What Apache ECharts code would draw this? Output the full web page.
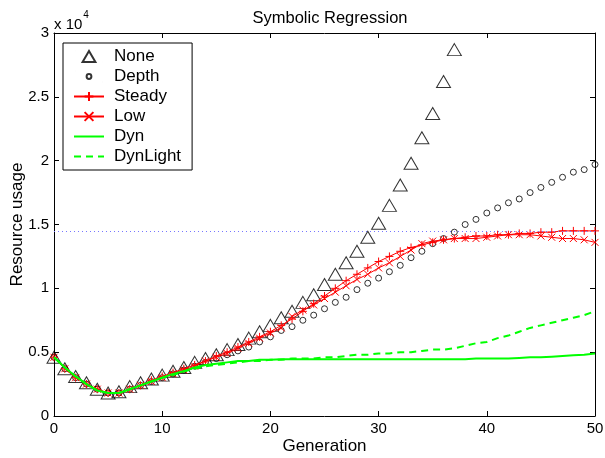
<!DOCTYPE html>
<html>
<head>
<meta charset="utf-8">
<script src="https://cdn.jsdelivr.net/npm/echarts@6/dist/echarts.min.js"></script>
<style>
html,body{margin:0;padding:0;background:#fff;}
#chart{width:605px;height:458px;}
</style>
</head>
<body>
<div id="chart"></div>
<script>
const generations = [0,1,2,3,4,5,6,7,8,9,10,11,12,13,14,15,16,17,18,19,20,21,22,23,24,25,26,27,28,29,30,31,32,33,34,35,36,37,38,39,40,41,42,43,44,45,46,47,48,49,50];
const noneVals = [4600,3700,3100,2600,2100,1800,1900,2300,2600,2900,3200,3500,3800,4200,4500,4800,5200,5600,6100,6600,7100,7700,8200,8900,9500,10300,11100,12000,12900,14000,15100,16500,18100,19800,21800,23700,26200,28700];
const depthVals = [4600,3700,3000,2500,2100,1800,1800,2100,2400,2700,3000,3300,3600,3900,4200,4500,4800,5100,5400,5800,6200,6700,7000,7500,7900,8400,8900,9300,9900,10400,10800,11300,11800,12400,12900,13500,13900,14400,15000,15400,15900,16300,16700,17000,17500,17900,18300,18700,19100,19300,19700];
const steadyVals = [4600,3700,3000,2500,2100,1800,1800,2100,2400,2800,3100,3400,3700,4000,4300,4700,5000,5400,5800,6200,6600,7100,7600,8200,8800,9400,10000,10600,11100,11600,12100,12500,12900,13200,13400,13600,13800,13900,14000,14100,14100,14200,14200,14300,14300,14400,14400,14500,14500,14500,14500];
const lowVals = [4600,3700,3000,2500,2100,1800,1800,2100,2400,2700,3000,3300,3600,3900,4300,4600,4900,5300,5700,6100,6500,6900,7800,8300,8700,9200,9700,10200,10700,11100,11600,12000,12500,13000,13500,13700,13800,13900,13900,13900,14000,14100,14200,14200,14200,14100,14000,13900,13900,13800,13600];
const dynVals = [4600,3800,3100,2500,2000,1800,1800,2100,2400,2700,3000,3300,3500,3800,4000,4100,4200,4300,4300,4400,4400,4450,4450,4450,4450,4450,4450,4450,4450,4450,4450,4450,4450,4450,4450,4450,4450,4450,4450,4500,4500,4500,4500,4550,4600,4600,4650,4700,4750,4800,4900];
const dynLightVals = [4600,3800,3100,2500,2000,1800,1800,2100,2400,2700,3000,3200,3500,3700,3900,4000,4100,4200,4300,4300,4400,4400,4500,4500,4500,4600,4600,4700,4800,4800,4900,4900,5000,5000,5100,5200,5200,5300,5500,5700,5800,6100,6300,6600,6900,7100,7300,7500,7700,7900,8200];
const referenceLevel = 14450;
const seriesNames = ['None','Depth','Steady','Low','Dyn','DynLight'];

function pairs(vals){ return vals.map((v,i)=>[generations[i], v]); }

const FONT = 'Liberation Sans';
const chart = echarts.init(document.getElementById('chart'), null, {renderer:'canvas'});
const plusPath = 'path://M0,5L10,5M5,0L5,10';
const crossPath = 'path://M0,0L10,10M0,10L10,0';
const triIcon = 'path://M0,0L0.01,0M30,12L29.99,12M8,12L15,0L22,12Z';
const circIcon = 'path://M0,0L0.01,0M30,12L29.99,12M17.6,6A2.6,2.6 0 1 1 12.4,6A2.6,2.6 0 1 1 17.6,6Z';
const hidden = {opacity:0};

chart.setOption({
  animation:false,
  backgroundColor:'#fff',
  textStyle:{fontFamily:FONT},
  title:{text:'Symbolic Regression', left:325, textAlign:'center', top:5,
    textStyle:{fontFamily:FONT, fontSize:16.5, fontWeight:'normal', color:'#000'}},
  graphic:[{type:'text', left:54, top:10, style:{
    text:'{a|x 10}{b|4}', rich:{a:{fontFamily:FONT,fontSize:15,fill:'#000', verticalAlign:'bottom', padding:[7,0,0,0]}, b:{fontFamily:FONT,fontSize:10,fill:'#000',verticalAlign:'top', padding:[0,0,9,1]}}}}],
  grid:{left:54, right:10, top:33, bottom:42, show:false, containLabel:false, outerBoundsMode:'none'},
  legend:{
    orient:'vertical', left:63, top:43,
    data:[
      {name:seriesNames[0], icon:triIcon},
      {name:seriesNames[1], icon:circIcon},
      {name:seriesNames[2]},
      {name:seriesNames[3]},
      {name:seriesNames[4], itemStyle:hidden},
      {name:seriesNames[5], itemStyle:hidden}
    ],
    itemWidth:30, itemHeight:11, itemGap:3,
    padding:[5,11,5,10],
    borderColor:'#000', borderWidth:1, backgroundColor:'#fff',
    textStyle:{fontFamily:FONT, fontSize:17, color:'#000', padding:[0,0,0,5]}
  },
  xAxis:[{
    type:'value', min:0, max:50, interval:10, position:'bottom',
    name:'Generation', nameLocation:'middle', nameGap:22, nameMoveOverlap:false,
    nameTextStyle:{fontFamily:FONT, fontSize:17, color:'#000'},
    axisLine:{show:true, lineStyle:{color:'#000', width:1}},
    axisTick:{show:true, inside:true, length:5, lineStyle:{color:'#000'}},
    axisLabel:{fontFamily:FONT, fontSize:15, color:'#000', margin:5},
    splitLine:{show:false}
  },{
    type:'value', min:0, max:50, interval:10, position:'top',
    axisLine:{show:true, onZero:false, lineStyle:{color:'#000', width:1}},
    axisTick:{show:true, inside:true, length:5, lineStyle:{color:'#000'}},
    axisLabel:{show:false}, splitLine:{show:false}
  }],
  yAxis:[{
    type:'value', min:0, max:30000, interval:5000, position:'left',
    name:'Resource usage', nameLocation:'middle', nameGap:28, nameRotate:90, nameMoveOverlap:false,
    nameTextStyle:{fontFamily:FONT, fontSize:17, color:'#000'},
    axisLine:{show:true, lineStyle:{color:'#000', width:1}},
    axisTick:{show:true, inside:true, length:5, lineStyle:{color:'#000'}},
    axisLabel:{fontFamily:FONT, fontSize:15, color:'#000', margin:5,
      formatter:v=>String(v/10000)},
    splitLine:{show:false}
  },{
    type:'value', min:0, max:30000, interval:5000, position:'right',
    axisLine:{show:true, onZero:false, lineStyle:{color:'#000', width:1}},
    axisTick:{show:true, inside:true, length:5, lineStyle:{color:'#000'}},
    axisLabel:{show:false}, splitLine:{show:false}
  }],
  series:[
    {name:seriesNames[0], type:'scatter', data:pairs(noneVals), symbol:'triangle', symbolSize:[14,12],
      itemStyle:{color:'rgba(255,255,255,0)', borderColor:'#000', borderWidth:1}, z:2},
    {name:seriesNames[1], type:'scatter', data:pairs(depthVals), symbol:'circle', symbolSize:6,
      itemStyle:{color:'rgba(255,255,255,0)', borderColor:'#000', borderWidth:1}, z:2},
    {name:seriesNames[2], type:'line', data:pairs(steadyVals), symbol:plusPath, symbolSize:8, showAllSymbol:true,
      lineStyle:{color:'#ff0000', width:1}, itemStyle:{color:'#ff0000', borderColor:'#ff0000', borderWidth:1}, z:3,
      markLine:{silent:true, symbol:['none','none'], label:{show:false},
        lineStyle:{color:'#7777ff', type:[1,3], width:1}, data:[{yAxis:referenceLevel}]}},
    {name:seriesNames[3], type:'line', data:pairs(lowVals), symbol:crossPath, symbolSize:7, showAllSymbol:true,
      lineStyle:{color:'#ff0000', width:1}, itemStyle:{color:'#ff0000', borderColor:'#ff0000', borderWidth:1}, z:3},
    {name:seriesNames[4], type:'line', data:pairs(dynVals), symbol:'none',
      lineStyle:{color:'#00ff00', width:2}, itemStyle:{color:'#00ff00'}, z:4},
    {name:seriesNames[5], type:'line', data:pairs(dynLightVals), symbol:'none',
      lineStyle:{color:'#00ff00', width:2, type:[7,5]}, itemStyle:{color:'#00ff00'}, z:4}
  ]
});
</script>
</body>
</html>
